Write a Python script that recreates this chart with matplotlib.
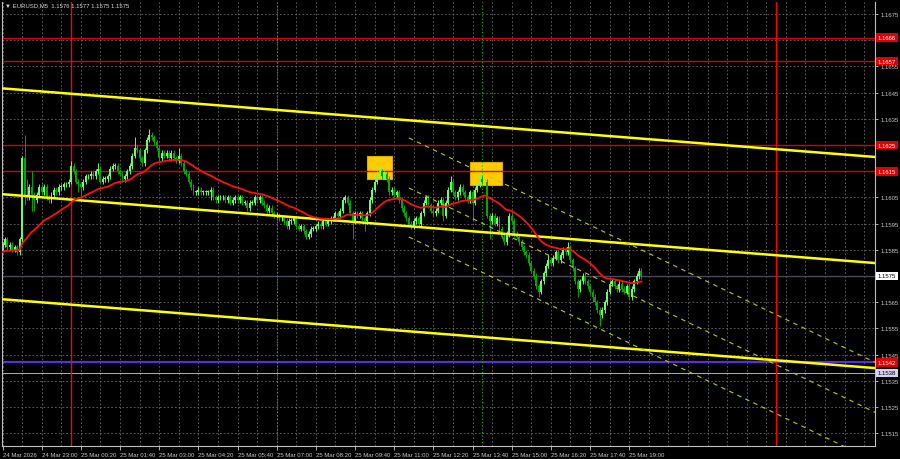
import matplotlib
matplotlib.use('Agg')
import matplotlib.pyplot as plt
import matplotlib.transforms as mtransforms
import pandas as pd

# EURUSD M5, one close per bar, bar 0 = 24 Mar 21:40
start_time = pd.Timestamp('2026-03-24 21:40')
open_first = 1.1586
closes = [
    1.1587, 1.1589, 1.1586, 1.1587, 1.1585, 1.1586, 1.1584, 1.1589, 1.1620, 1.1606,
    1.1605, 1.1609, 1.1606, 1.1604, 1.1606, 1.1609, 1.1607, 1.1609, 1.1605, 1.1604,
    1.1606, 1.1608, 1.1607, 1.1609, 1.1609, 1.1610, 1.1610, 1.1611, 1.1617, 1.1615,
    1.1611, 1.1610, 1.1609, 1.1611, 1.1613, 1.1613, 1.1614, 1.1613, 1.1615, 1.1616,
    1.1611, 1.1612, 1.1612, 1.1613, 1.1616, 1.1617, 1.1617, 1.1615, 1.1614, 1.1612,
    1.1613, 1.1615, 1.1617, 1.1621, 1.1624, 1.1623, 1.1620, 1.1618, 1.1623, 1.1627,
    1.1629, 1.1628, 1.1626, 1.1624, 1.1620, 1.1622, 1.1621, 1.1622, 1.1620, 1.1622,
    1.1620, 1.1619, 1.1621, 1.1618, 1.1615, 1.1614, 1.1611, 1.1609, 1.1607, 1.1607,
    1.1608, 1.1607, 1.1607, 1.1607, 1.1607, 1.1608, 1.1605, 1.1604, 1.1605, 1.1605,
    1.1605, 1.1604, 1.1605, 1.1603, 1.1604, 1.1605, 1.1604, 1.1605, 1.1603, 1.1603,
    1.1601, 1.1603, 1.1603, 1.1605, 1.1604, 1.1605, 1.1603, 1.1602, 1.1600, 1.1601,
    1.1599, 1.1598, 1.1598, 1.1597, 1.1597, 1.1596, 1.1594, 1.1596, 1.1596, 1.1597,
    1.1594, 1.1593, 1.1594, 1.1592, 1.1590, 1.1591, 1.1593, 1.1593, 1.1594, 1.1595,
    1.1594, 1.1596, 1.1595, 1.1596, 1.1597, 1.1597, 1.1599, 1.1598, 1.1600, 1.1604,
    1.1605, 1.1603, 1.1599, 1.1596, 1.1599, 1.1598, 1.1599, 1.1597, 1.1596, 1.1599,
    1.1604, 1.1608, 1.1611, 1.1614, 1.1615, 1.1613, 1.1614, 1.1612, 1.1607, 1.1608,
    1.1606, 1.1607, 1.1604, 1.1601, 1.1599, 1.1597, 1.1595, 1.1594, 1.1596, 1.1597,
    1.1595, 1.1599, 1.1603, 1.1605, 1.1602, 1.1600, 1.1599, 1.1600, 1.1603, 1.1604,
    1.1598, 1.1603, 1.1608, 1.1611, 1.1607, 1.1605, 1.1607, 1.1609, 1.1607, 1.1605,
    1.1604, 1.1607, 1.1603, 1.1608, 1.1610, 1.1612, 1.1611, 1.1611, 1.1598, 1.1596,
    1.1598, 1.1595, 1.1597, 1.1593, 1.1590, 1.1588, 1.1591, 1.1598, 1.1596, 1.1591,
    1.1590, 1.1588, 1.1586, 1.1584, 1.1583, 1.1580, 1.1577, 1.1575, 1.1571, 1.1569,
    1.1573, 1.1576, 1.1579, 1.1581, 1.1580, 1.1582, 1.1584, 1.1581, 1.1583, 1.1585,
    1.1584, 1.1586, 1.1581, 1.1578, 1.1573, 1.1570, 1.1573, 1.1575, 1.1573, 1.1571,
    1.1569, 1.1567, 1.1565, 1.1562, 1.1560, 1.1562, 1.1565, 1.1569, 1.1572, 1.1573,
    1.1571, 1.1570, 1.1572, 1.1570, 1.1569, 1.1571, 1.1567, 1.1570, 1.1573, 1.1575,
    1.1577, 1.1575,
]
# wick length beyond the body, in pips
wick_up = [
    1, 1, 1, 1, 1, 1, 1, 1, 1, 9, 6, 1, 6, 1, 1, 1, 1, 1, 1, 1,
    1, 1, 1, 1, 1, 1, 1, 1, 2, 1, 1, 1, 1, 1, 1, 1, 1, 1, 1, 2,
    1, 1, 1, 1, 1, 1, 1, 1, 1, 1, 1, 1, 1, 1, 4, 1, 1, 1, 1, 1,
    2, 1, 1, 1, 1, 1, 1, 1, 1, 1, 1, 1, 3, 1, 1, 1, 1, 1, 1, 1,
    1, 1, 1, 1, 1, 1, 1, 1, 1, 1, 1, 1, 1, 1, 1, 1, 1, 1, 1, 1,
    1, 1, 1, 1, 1, 1, 1, 1, 1, 1, 1, 1, 1, 1, 1, 1, 1, 1, 1, 1,
    1, 1, 1, 1, 1, 1, 1, 1, 1, 1, 1, 1, 1, 1, 1, 1, 1, 1, 1, 1,
    1, 1, 1, 1, 1, 1, 1, 1, 1, 1, 1, 1, 1, 1, 2, 1, 1, 1, 1, 1,
    1, 1, 1, 1, 1, 1, 1, 1, 1, 1, 1, 1, 1, 1, 1, 1, 1, 1, 1, 1,
    1, 1, 1, 2, 1, 1, 1, 1, 1, 1, 1, 1, 1, 1, 1, 2, 1, 1, 1, 1,
    1, 1, 1, 1, 1, 1, 1, 1, 1, 1, 1, 1, 1, 1, 1, 1, 1, 1, 1, 1,
    1, 1, 1, 2, 1, 1, 1, 1, 1, 1, 1, 2, 1, 1, 1, 1, 1, 1, 1, 1,
    1, 1, 1, 1, 1, 1, 1, 1, 1, 1, 1, 1, 1, 1, 1, 1, 1, 1, 1, 1,
    1, 1,
]
wick_dn = [
    1, 1, 1, 1, 1, 1, 1, 1, 1, 4, 1, 1, 6, 4, 1, 1, 1, 1, 1, 1,
    1, 1, 1, 1, 1, 1, 1, 1, 1, 1, 1, 3, 4, 1, 1, 1, 1, 1, 1, 1,
    1, 1, 1, 1, 1, 1, 1, 1, 1, 1, 1, 1, 1, 1, 1, 1, 1, 1, 1, 1,
    1, 1, 1, 1, 1, 1, 1, 1, 1, 1, 1, 1, 1, 1, 1, 1, 1, 1, 1, 1,
    1, 1, 1, 1, 1, 3, 1, 1, 1, 1, 1, 1, 1, 1, 1, 1, 1, 1, 1, 1,
    1, 1, 1, 1, 1, 1, 1, 1, 1, 1, 1, 1, 1, 1, 1, 1, 1, 1, 1, 1,
    1, 1, 1, 1, 1, 1, 1, 1, 1, 1, 1, 1, 1, 1, 1, 1, 1, 1, 1, 1,
    1, 1, 1, 7, 1, 1, 1, 1, 4, 1, 1, 1, 1, 1, 1, 1, 1, 1, 1, 1,
    1, 1, 1, 1, 1, 1, 1, 1, 1, 1, 1, 1, 1, 1, 1, 1, 1, 1, 1, 1,
    2, 1, 1, 1, 1, 1, 1, 1, 1, 1, 1, 1, 7, 1, 1, 1, 1, 1, 1, 7,
    1, 1, 1, 1, 1, 1, 1, 1, 1, 1, 1, 1, 1, 1, 1, 1, 1, 1, 1, 2,
    1, 1, 1, 1, 1, 1, 1, 1, 1, 1, 1, 1, 1, 1, 1, 3, 1, 1, 1, 1,
    1, 2, 1, 1, 4, 1, 1, 1, 1, 1, 1, 1, 1, 1, 1, 1, 1, 1, 1, 1,
    1, 1,
]
pip = 0.0001
ma_period = 30
ma_seed = 1.1584

title = '\u25bc EURUSD,M5  1.1576 1.1577 1.1575 1.1575'
time_labels = ['24 Mar 2026', '24 Mar 23:00', '25 Mar 00:20', '25 Mar 01:40', '25 Mar 03:00',
               '25 Mar 04:20', '25 Mar 05:40', '25 Mar 07:00', '25 Mar 08:20', '25 Mar 09:40',
               '25 Mar 11:00', '25 Mar 12:20', '25 Mar 13:40', '25 Mar 15:00', '25 Mar 16:20',
               '25 Mar 17:40', '25 Mar 19:00']
label_every = 16
grid_every = 8
price_ticks = [1.1515, 1.1525, 1.1535, 1.1545, 1.1555, 1.1565, 1.1585, 1.1595, 1.1605,
               1.1635, 1.1645, 1.1655, 1.1675]
grid_prices = [1.1515, 1.1525, 1.1535, 1.1545, 1.1555, 1.1565, 1.1575, 1.1585, 1.1595,
               1.1605, 1.1615, 1.1625, 1.1635, 1.1645, 1.1655, 1.1665, 1.1675]

red_levels = [1.1666, 1.1657, 1.1625, 1.1615]
purple_level = 1.1542
lilac_level = 1.1538
last_price = 1.1575

day_marks = ['2026-03-25 00:00', '2026-03-26 00:00']
session_marks = ['2026-03-25 07:00', '2026-03-25 14:00']

# trend channel: (time, price) at both ends
chan_times = ['2026-03-24 21:35', '2026-03-26 03:25']
chan_upper = [1.16467, 1.16204]
chan_mid = [1.16063, 1.15799]
chan_low = [1.15662, 1.15398]
# falling thin channel
down_times = ['2026-03-25 11:30', '2026-03-26 03:25']
down_1 = [1.16277, 1.15418]
down_2 = [1.16086, 1.15227]
down_3 = [1.15899, 1.15040]

# signal boxes: start, end, low, high
boxes = [('2026-03-25 10:05', '2026-03-25 10:55', 1.16120, 1.16207),
         ('2026-03-25 13:35', '2026-03-25 14:40', 1.16097, 1.16186)]


def bar_of(t):
    return (pd.Timestamp(t) - start_time) / pd.Timedelta(minutes=5)


opens = [open_first] + closes[:-1]
n = len(closes)
idx = list(range(n))
highs = [max(o, c) + u * pip for o, c, u in zip(opens, closes, wick_up)]
lows = [min(o, c) - d * pip for o, c, d in zip(opens, closes, wick_dn)]

# exponential moving average, seeded with the level shown at the left edge
ma = []
m = ma_seed
alpha = 2.0 / (ma_period + 1)
for c in closes:
    m = m + alpha * (c - m)
    ma.append(m)

plt.rcParams['font.family'] = ['Liberation Sans', 'DejaVu Sans']

fig = plt.figure(figsize=(9, 4.6), dpi=100, facecolor='black')
ax = fig.add_axes([2 / 900, 13 / 460, 873 / 900, 444 / 460])
ax.set_facecolor('black')
ax.set_xlim(-0.22, 356.4)
ax.set_ylim(1.15101, 1.16796)

# grid
for p in grid_prices:
    ax.axhline(p, color='#6a6a6a', lw=0.6, dashes=(2, 2.5), zorder=0.5)
for b in range(0, 357, grid_every):
    ax.axvline(b, color='#6a6a6a', lw=0.6, dashes=(2, 2.5), zorder=0.5)

for t0, t1, lo, hi in boxes:
    b0, b1 = bar_of(t0), bar_of(t1)
    ax.add_patch(plt.Rectangle((b0, lo), b1 - b0, hi - lo, facecolor='#ffcc00',
                               edgecolor='#e0a800', lw=0.8, zorder=1))

for lvl in red_levels:
    ax.axhline(lvl, color='#d80000', lw=1.0, zorder=2)
ax.axhline(purple_level, color='#5530d8', lw=1.6, zorder=2)
ax.axhline(lilac_level, color='#b0a8dc', lw=0.7, zorder=2)
ax.axhline(last_price, color='#4a4a58', lw=1.0, zorder=1.5)
for t in day_marks:
    ax.axvline(bar_of(t), color='#ff0000', lw=1.0, zorder=2)
for t in session_marks:
    ax.axvline(bar_of(t), color='#00c800', lw=0.8, dashes=(1, 2), zorder=2)

# candles
up = [c >= o for o, c in zip(opens, closes)]
cols = ['#66ff66' if u else '#00a800' for u in up]
ax.vlines(idx, lows, highs, colors=cols, lw=0.7, zorder=3)
bottoms = [min(o, c) for o, c in zip(opens, closes)]
heights = [max(abs(c - o), 0.00003) for o, c in zip(opens, closes)]
ax.bar(idx, heights, bottom=bottoms, width=0.8, color=cols, linewidth=0, zorder=3)

ax.plot(idx, ma, color='#ff1010', lw=1.3, zorder=4)

cb = [bar_of(t) for t in chan_times]
for line in (chan_upper, chan_mid, chan_low):
    ax.plot(cb, line, color='#ffff00', lw=1.8, zorder=3.5, solid_capstyle='butt')
db = [bar_of(t) for t in down_times]
for line in (down_1, down_2, down_3):
    ax.plot(db, line, color='#c8c800', lw=0.8, dashes=(4, 4), zorder=3.5)

# axes look
ax.spines['top'].set_visible(False)
for s in ('left', 'right', 'bottom'):
    ax.spines[s].set_color('#c0c0c0')
    ax.spines[s].set_linewidth(0.8)

ax.yaxis.tick_right()
ax.set_yticks(price_ticks)
ax.set_yticklabels([f'{p:.4f}' for p in price_ticks])
ax.tick_params(axis='y', colors='#c8c8c8', labelsize=4.3, length=2, width=0.6, pad=2)
ax.set_xticks(list(range(0, label_every * len(time_labels), label_every)))
ax.set_xticklabels(time_labels, ha='left')
ax.tick_params(axis='x', colors='#c8c8c8', labelsize=4.3, length=3, width=0.6, pad=1)

trans = mtransforms.blended_transform_factory(ax.transAxes, ax.transData)
tags = [(lvl, '#e00000', 'white') for lvl in red_levels]
tags += [(purple_level, '#e00000', 'white'), (lilac_level, '#d8d0f0', 'black'),
         (last_price, 'white', 'black')]
for lvl, bg, fg in tags:
    ax.text(1.003, lvl, f'{lvl:.4f}', transform=trans, fontsize=4.3, color=fg,
            va='center', ha='left', clip_on=False, zorder=6,
            bbox=dict(boxstyle='square,pad=0.3', fc=bg, ec='none'))

fig.text(5 / 900, 1 - 6 / 460, title, fontsize=4.3, color='#d8d8d8', va='center', ha='left')

fig.savefig('out.png', dpi=100, facecolor='black')
